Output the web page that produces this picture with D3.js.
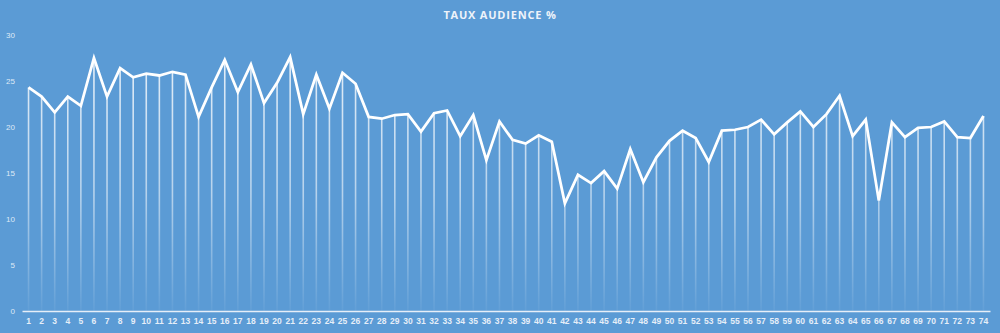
<!DOCTYPE html>
<html>
<head>
<meta charset="utf-8">
<script src="https://cdn.jsdelivr.net/npm/d3@7"></script>
<style>
  body { margin: 0; background: #5b9bd5; }
  svg { display: block; font-family: "Open Sans", "Noto Sans", sans-serif; }
</style>
</head>
<body>
<div id="chart"></div>
<script>
var w = 1000, h = 333;
var margin = {top: 35, right: 10, bottom: 22, left: 22};

var title = "TAUX AUDIENCE %";
var categories = d3.range(1, 75).map(String);
var audience = [24.3, 23.3, 21.6, 23.3, 22.3, 27.5, 23.3, 26.4, 25.4, 25.8,
                25.6, 26.0, 25.7, 21.1, 24.3, 27.3, 23.8, 26.8, 22.6, 24.8,
                27.6, 21.4, 25.7, 22.0, 25.9, 24.7, 21.1, 20.9, 21.3, 21.4,
                19.5, 21.5, 21.8, 19.0, 21.3, 16.4, 20.6, 18.6, 18.2, 19.1,
                18.4, 11.7, 14.8, 13.9, 15.2, 13.3, 17.6, 14.0, 16.7, 18.5,
                19.6, 18.8, 16.2, 19.6, 19.7, 20.0, 20.8, 19.2, 20.5, 21.7,
                20.0, 21.4, 23.4, 19.0, 20.8, 12.0, 20.5, 18.9, 19.9, 20.0,
                20.6, 18.9, 18.8, 21.2];
var yTicks = [0, 5, 10, 15, 20, 25, 30];

var data = categories.map(function(c, i) { return {cat: c, v: audience[i]}; });

var svg = d3.select("#chart").append("svg")
    .attr("width", w)
    .attr("height", h);

svg.append("rect")
    .attr("width", w).attr("height", h)
    .attr("fill", "#5b9bd5");

var plotBottom = 311;

var x = d3.scaleBand()
    .domain(categories)
    .range([margin.left, 990]);

var y = d3.scaleLinear()
    .domain([0, 30])
    .range([plotBottom, margin.top]);

// gradient for drop lines, fading towards the axis
var defs = svg.append("defs");
var grad = defs.append("linearGradient")
    .attr("id", "dropFade")
    .attr("gradientUnits", "userSpaceOnUse")
    .attr("x1", 0).attr("y1", y(28))
    .attr("x2", 0).attr("y2", plotBottom);
grad.append("stop").attr("offset", "0%").attr("stop-color", "#fff").attr("stop-opacity", 0.85);
grad.append("stop").attr("offset", "55%").attr("stop-color", "#fff").attr("stop-opacity", 0.55);
grad.append("stop").attr("offset", "100%").attr("stop-color", "#fff").attr("stop-opacity", 0.04);

// title
svg.append("text")
    .attr("x", w / 2)
    .attr("y", 19)
    .attr("text-anchor", "middle")
    .attr("fill", "#eef3fa")
    .style("font-size", "11px")
    .style("font-weight", "bold")
    .style("letter-spacing", "0.8px")
    .text(title);

// y axis labels
var yAxis = d3.axisLeft(y).tickValues(yTicks).tickSize(0).tickPadding(0);
var gy = svg.append("g")
    .attr("transform", "translate(15,0)")
    .call(yAxis);
gy.select(".domain").remove();
gy.selectAll("text")
    .attr("fill", "#dfe9f6")
    .style("font-size", "8px");

// drop lines
svg.append("g").selectAll("line")
    .data(data)
    .enter().append("line")
    .attr("x1", function(d) { return x(d.cat) + x.bandwidth() / 2; })
    .attr("x2", function(d) { return x(d.cat) + x.bandwidth() / 2; })
    .attr("y1", function(d) { return y(d.v); })
    .attr("y2", plotBottom)
    .attr("stroke", "url(#dropFade)")
    .attr("stroke-width", 1.6);

// x axis
var xAxis = d3.axisBottom(x).tickSize(0).tickPadding(7);
var gx = svg.append("g")
    .attr("transform", "translate(0," + plotBottom + ")")
    .call(xAxis);
gx.select(".domain")
    .attr("stroke", "#e6eef8")
    .attr("stroke-width", 1.5);
gx.selectAll("text")
    .attr("fill", "#e6eef8")
    .style("font-size", "8.5px")
    .style("font-weight", "600");

// the line
var line = d3.line()
    .x(function(d) { return x(d.cat) + x.bandwidth() / 2; })
    .y(function(d) { return y(d.v); });

svg.append("path")
    .datum(data)
    .attr("d", line)
    .attr("fill", "none")
    .attr("stroke", "#fff")
    .attr("stroke-width", 2.75)
    .attr("stroke-linejoin", "miter");
</script>
</body>
</html>
